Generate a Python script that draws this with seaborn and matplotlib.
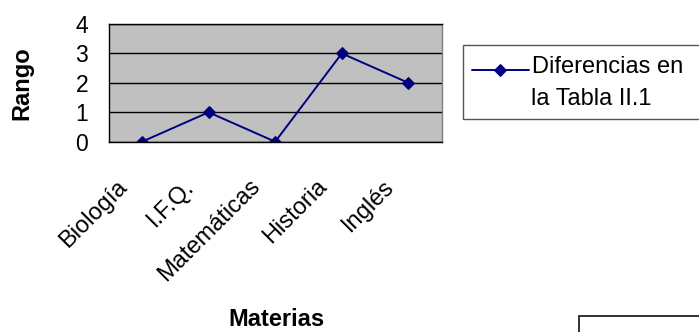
import matplotlib
matplotlib.use("Agg")
import matplotlib.pyplot as plt
from matplotlib.patches import Rectangle
from matplotlib.lines import Line2D
from matplotlib.legend_handler import HandlerLine2D
from matplotlib.ticker import FixedLocator, NullFormatter
from matplotlib.transforms import ScaledTranslation
import seaborn as sns
import numpy as np
import pandas as pd

# Data
materias = ["Biología", "I.F.Q.", "Matemáticas", "Historia", "Inglés"]
rango = [0, 1, 0, 3, 2]
serie = "Diferencias en"
serie_linea2 = "la Tabla II.1"
yticks = [0, 1, 2, 3, 4]

df = pd.DataFrame({"Materias": materias, "Rango": rango})

sns.set_style("white")
plt.rcParams["font.family"] = ["Liberation Sans", "DejaVu Sans"]
plt.rcParams["text.color"] = "black"
plt.rcParams["xtick.color"] = "black"
plt.rcParams["ytick.color"] = "black"


class BaselineLine(HandlerLine2D):
    """Legend key drawn near the text baseline rather than mid-height."""

    def create_artists(self, legend, orig_handle, xdescent, ydescent,
                       width, height, fontsize, trans):
        arts = super().create_artists(legend, orig_handle, xdescent, ydescent,
                                      width, height, fontsize, trans)
        for a in arts:
            a.set_ydata(np.asarray(a.get_ydata(), dtype=float) - 0.22 * fontsize)
        return arts


W, H = 699, 332
fig = plt.figure(figsize=(W / 100, H / 100), dpi=100)
ax = fig.add_axes([108.7 / W, 1 - 141.7 / H, (441.7 - 108.7) / W, (141.7 - 24) / H])
ax.set_facecolor("#C0C0C0")

navy = "#000080"
sns.lineplot(data=df, x="Materias", y="Rango", sort=False, ax=ax,
             color=navy, marker="D", markersize=6.5, markeredgecolor=navy,
             linewidth=1.4, label=serie, legend=False)

ax.set_xlim(-0.5, len(materias) - 0.5)
ax.set_ylim(0, 4)
ax.set_yticks(yticks)
ax.yaxis.grid(True, color="black", linewidth=1)
ax.set_axisbelow(True)

# Category boundaries carry the tick marks; labels sit at the centres
ax.xaxis.set_minor_locator(FixedLocator([i - 0.5 for i in range(len(materias) + 1)]))
ax.xaxis.set_minor_formatter(NullFormatter())
ax.set_xticks(range(len(materias)))
ax.set_xticklabels(materias, rotation=45, ha="right", va="center", rotation_mode="anchor")
ax.tick_params(axis="x", which="major", length=0, pad=30, labelsize=17)
ax.tick_params(axis="x", which="minor", length=5.8, width=1, direction="out")
ax.tick_params(axis="y", length=5.8, width=1, direction="out", pad=9, labelsize=16.5)
shift = ScaledTranslation(-18 / 100, 0, fig.dpi_scale_trans)
for lab in ax.get_xticklabels():
    lab.set_transform(lab.get_transform() + shift)

for s in ["left", "bottom", "top"]:
    ax.spines[s].set_color("black")
    ax.spines[s].set_linewidth(1)
ax.spines["right"].set_color("#808080")
ax.spines["right"].set_linewidth(1)

ax.set_xlabel("")
ax.set_ylabel("")
fig.text(22 / W, 1 - 83 / H, "Rango", rotation=90, fontsize=17, fontweight="bold",
         ha="center", va="center")
fig.text(276 / W, 1 - 320 / H, "Materias", fontsize=17, fontweight="bold",
         ha="center", va="center")

# Legend box
fig.patches.append(Rectangle((462.7 / W, 1 - 119.3 / H), (W - 462.7 + 5) / W, (119.3 - 45) / H,
                             transform=fig.transFigure, facecolor="white",
                             edgecolor="#555555", linewidth=1, clip_on=False))
h, l = ax.get_legend_handles_labels()
leg = fig.legend(h, l, loc="upper left", bbox_to_anchor=(472 / W, 1 - 56 / H),
                 frameon=False, fontsize=17, handlelength=2.4, handletextpad=0.15,
                 borderpad=0, borderaxespad=0,
                 handler_map={Line2D: BaselineLine()})
fig.text(531 / W, 1 - 105 / H, serie_linea2, fontsize=17, ha="left", va="baseline")

# Partial box at lower right
fig.patches.append(Rectangle((578.5 / W, -0.05), (W - 578.5 + 5) / W, 1 - 315.5 / H + 0.05,
                             transform=fig.transFigure, facecolor="white",
                             edgecolor="#222222", linewidth=1.3, clip_on=False))

fig.savefig("out.png", dpi=100)
